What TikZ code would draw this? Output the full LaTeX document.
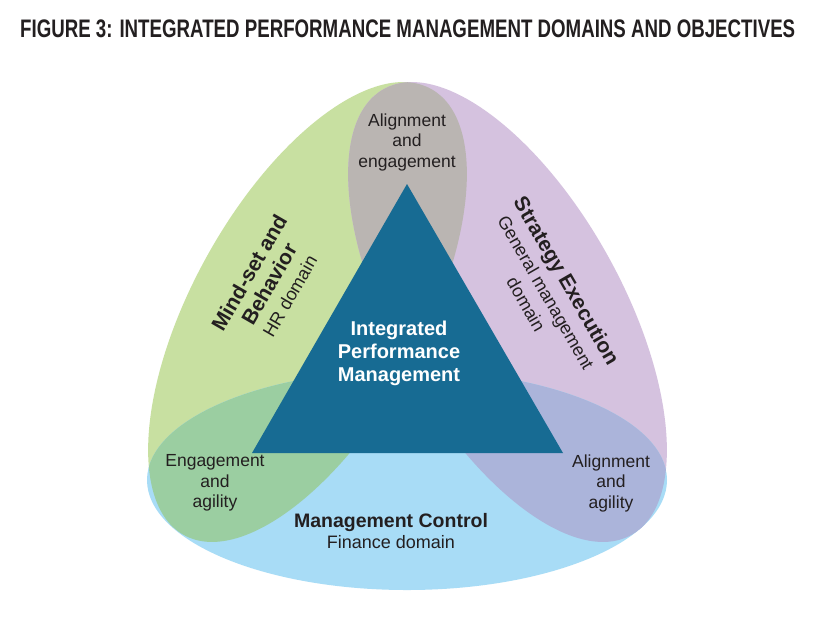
\documentclass[tikz,border=0pt]{standalone}
\usepackage{graphicx}
\usepackage{fontspec}
\setmainfont{Liberation Sans}
\usepackage{tikz}
\definecolor{mindgreen}{RGB}{200,224,161}
\definecolor{stratpurple}{RGB}{213,194,223}
\definecolor{ctrlblue}{RGB}{168,220,246}
\definecolor{topgrey}{RGB}{186,181,178}
\definecolor{leftgreen}{RGB}{155,206,161}
\definecolor{rightblue}{RGB}{171,180,218}
\definecolor{ipmblue}{RGB}{23,107,147}
\definecolor{inkdark}{RGB}{35,31,32}
\tikzset{%
	greendom/.style={rotate around={61:(gc)}},
	purpledom/.style={rotate around={-61:(pc)}},
	objective/.style={align=center, text=inkdark, inner sep=0pt,%
		font=\fontsize{17.5}{20.5}\selectfont},
	domainlabel/.style={align=center, text=inkdark, inner sep=0pt,%
		font=\fontsize{21}{23}\selectfont\bfseries},
	centrelabel/.style={align=center, text=white, inner sep=0pt,%
		font=\fontsize{20}{23}\selectfont\bfseries}
}
\newcommand{\subdom}[1]{{\fontsize{18}{21}\selectfont\mdseries #1}}

\begin{document}
\begin{tikzpicture}[x=1pt, y=-1pt]
	\useasboundingbox (0,0) rectangle (819,625);
	\fill[white] (0,0) rectangle (819,625);
	\coordinate (gc) at (307.5,312);
	\coordinate (pc) at (507.5,312);
	\coordinate (bc) at (407,480);

	% three domains
	\fill[mindgreen, greendom] (gc) ellipse [x radius=255, y radius=115];
	\fill[stratpurple, purpledom] (pc) ellipse [x radius=255, y radius=115];
	\fill[ctrlblue] (bc) ellipse [x radius=260, y radius=110];

	% overlaps
	\begin{scope}
		\clip[greendom] (gc) ellipse [x radius=255, y radius=115];
		\fill[topgrey, purpledom] (pc) ellipse [x radius=255, y radius=115];
		\fill[leftgreen] (bc) ellipse [x radius=260, y radius=110];
	\end{scope}
	\begin{scope}
		\clip[purpledom] (pc) ellipse [x radius=255, y radius=115];
		\fill[rightblue] (bc) ellipse [x radius=260, y radius=110];
	\end{scope}

	% triangle
	\coordinate (apex) at (407,184);
	\coordinate (lbase) at (252,453);
	\coordinate (rbase) at (563,453);
	\fill[ipmblue] (apex) -- (lbase) -- (rbase) -- cycle;

	\node[anchor=base west, inner sep=0pt, text=inkdark] (title) at (20,37.7)
		{\resizebox{775pt}{17.7pt}{\bfseries FIGURE 3: INTEGRATED PERFORMANCE MANAGEMENT DOMAINS AND OBJECTIVES}};
	\node[centrelabel] (ipm) at (399,353) {Integrated\\Performance\\Management};
	\node[objective] (aligneng) at (407,142) {Alignment\\and\\engagement};
	\node[objective] (engagil) at (215,483) {Engagement\\and\\agility};
	\node[objective] (alignagil) at (611,483) {Alignment\\and\\agility};
	\node[domainlabel, rotate=60] (mindset) at (269,284)
		{Mind-set and\\Behavior\\\subdom{HR domain}};
	\node[domainlabel, rotate=-60] (strategy) at (547,292)
		{Strategy Execution\\\subdom{General management}\\\subdom{domain}};
	\node[domainlabel, font=\fontsize{19.5}{21}\selectfont\bfseries] (control) at (391,531)
		{Management Control\\\subdom{Finance domain}};
\end{tikzpicture}
\end{document}
